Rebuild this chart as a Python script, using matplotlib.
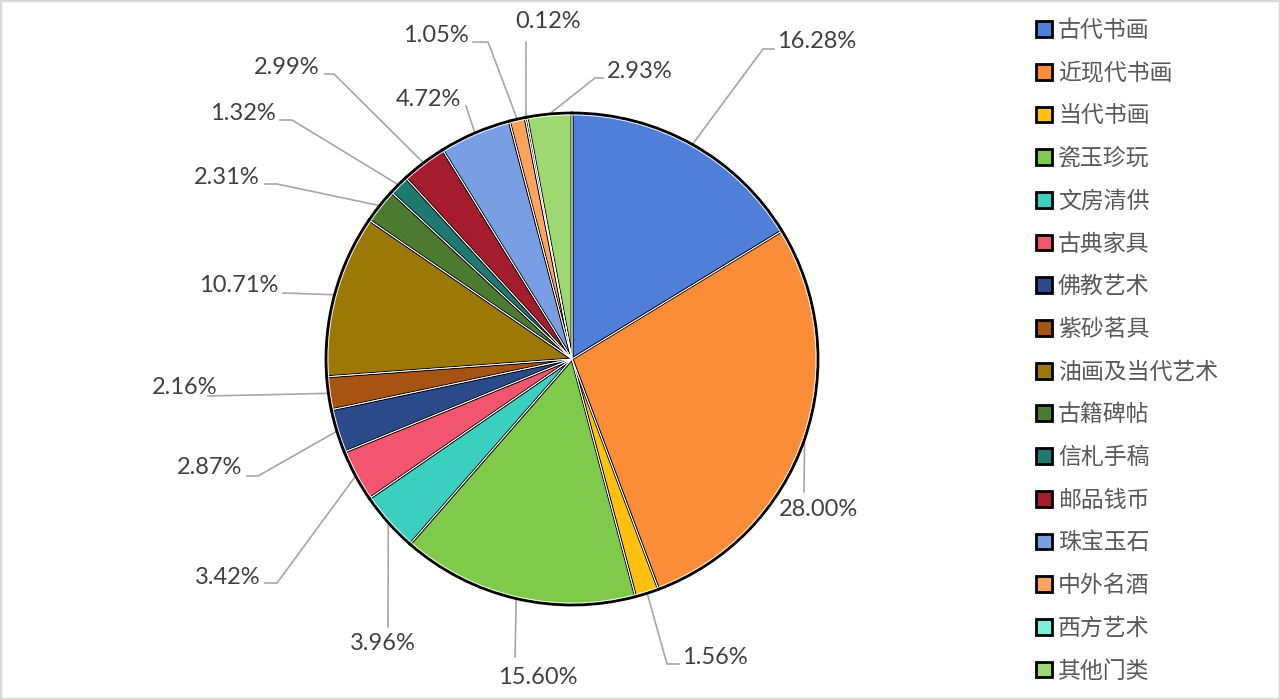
import matplotlib
matplotlib.use('Agg')
import numpy as np
import matplotlib.pyplot as plt
from matplotlib.patches import Rectangle

plt.rcParams['font.family'] = ['Noto Sans CJK SC', 'DejaVu Sans']

# categories and shares (%)
categories = ['古代书画', '近现代书画', '当代书画', '瓷玉珍玩', '文房清供', '古典家具',
              '佛教艺术', '紫砂茗具', '油画及当代艺术', '古籍碑帖', '信札手稿', '邮品钱币',
              '珠宝玉石', '中外名酒', '西方艺术', '其他门类']
shares = [16.28, 28.00, 1.56, 15.60, 3.96, 3.42, 2.87, 2.16,
          10.71, 2.31, 1.32, 2.99, 4.72, 1.05, 0.12, 2.93]
colors = ['#507FD9', '#FB8C38', '#FFC10E', '#7FC94B', '#3BCFC0', '#F2556E',
          '#2C4A8A', '#A65313', '#9C7806', '#4B7A30', '#1E7A70', '#A61C2F',
          '#7A9EE3', '#FFA45C', '#80EEDD', '#9ED870']

# label layout (pixel coords, y down): text centre, elbow, leader end
lab_x = [817, 818, 715, 538, 383, 228, 210, 185, 239, 227, 243, 287, 428, 436, 548, 640]
lab_y = [42, 510, 657, 678, 644, 577, 468, 388, 286, 178, 113, 67, 100, 35, 22, 71]
elb_x = [763, 804, 667, 515, 388, 277, 258, 208, 283, 277, 292, 334, 466, 488, 526, 595]
elb_y = [49, 492, 664, 657, 627, 583, 476, 396, 293, 184, 120, 74, 106, 42, 42, 78]
end_x = [774, 804, 679, 515, 388, 265, 247, 208, 283, 265, 280, 325, 466, 473, 526, 603]

cx, cy, r = 572, 359, 246

fig = plt.figure(figsize=(12.8, 6.99), dpi=100)
ax = fig.add_axes([0, 0, 1, 1])

wedges, _ = ax.pie(shares, colors=colors, startangle=-90, counterclock=True,
                   center=(cx, cy), radius=r,
                   wedgeprops=dict(edgecolor='black', linewidth=2.0))
# thin white inner rim
ax.pie(shares, colors=['none'] * len(shares), startangle=-90, counterclock=True,
       center=(cx, cy), radius=r - 2.0,
       wedgeprops=dict(edgecolor='white', linewidth=0.6, fill=False))

ax.set_xlim(0, 1280)
ax.set_ylim(699, 0)
ax.set_aspect('equal')
ax.axis('off')

for i, w in enumerate(wedges):
    th = np.deg2rad((w.theta1 + w.theta2) / 2)
    px, py = cx + r * np.cos(th), cy + r * np.sin(th)
    ax.plot([px, elb_x[i], end_x[i]], [py, elb_y[i], elb_y[i]],
            color='#A6A6A6', lw=1.2, zorder=0)
    ax.text(lab_x[i], lab_y[i], '%.2f%%' % shares[i], ha='center', va='center',
            fontsize=17, color='#404040', family=['Lato', 'DejaVu Sans'])

fig.legend(wedges, categories, loc='upper left',
           bbox_to_anchor=(1036 / 1280, 1 - 19 / 699), frameon=False,
           fontsize=16.5, labelcolor='#595959', handlelength=0.68, handleheight=0.68,
           handletextpad=0.28, labelspacing=0.86, borderpad=0, borderaxespad=0)

fig.patches.append(Rectangle((0, 0), 1, 1, transform=fig.transFigure, fill=False,
                             edgecolor='#D9D9D9', linewidth=2.5))

fig.savefig('out.png', dpi=100)
